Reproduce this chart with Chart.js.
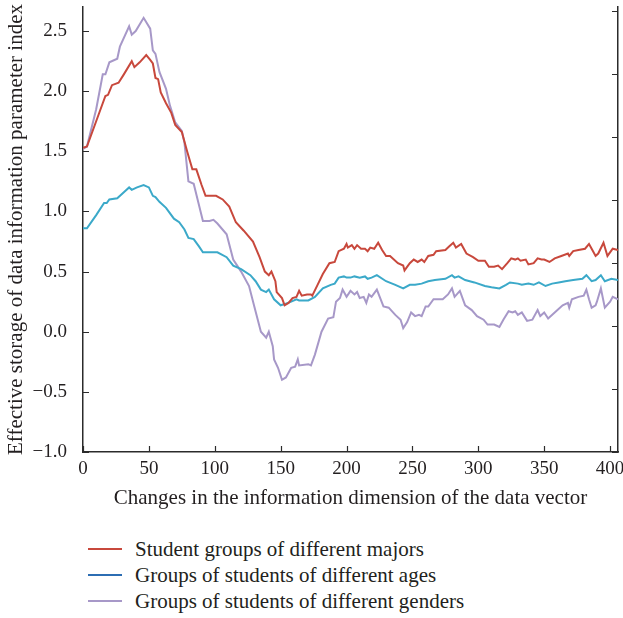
<!DOCTYPE html>
<html>
<head>
<meta charset="utf-8">
<script src="https://cdn.jsdelivr.net/npm/chart.js@4"></script>
<style>
  body { margin: 0; background: #fff; width: 623px; height: 618px; position: relative; overflow: hidden; }
  #chart { position: absolute; left: 0; top: 0; }
  .legend { position: absolute; left: 0; top: 536px; font-family: "Liberation Serif", serif; font-size: 21px; color: #231f20; }
  .legend .row { position: relative; height: 26px; width: 600px; }
  .legend .sw { position: absolute; left: 88px; top: 12px; width: 34px; height: 2px; }
  .legend .tx { position: absolute; left: 135px; top: 0; line-height: 26px; white-space: nowrap; }
</style>
</head>
<body>
<canvas id="chart" width="623" height="515"></canvas>
<div class="legend" id="legend"></div>
<script>
// series labels
const seriesNames = [
    'Student groups of different majors',
    'Groups of students of different ages',
    'Groups of students of different genders'
];

// [dimension, value]
const majors = [[0,1.53],[3,1.54],[10,1.75],[17,1.96],[19,1.97],[22,2.05],[27,2.07],[31,2.14],[37,2.25],[39,2.20],[43,2.24],[48,2.30],[51,2.26],[53,2.23],[55,2.11],[57,2.10],[59,1.99],[63,1.90],[67,1.82],[70,1.72],[75,1.66],[79,1.50],[83,1.35],[86,1.35],[90,1.22],[93,1.13],[101,1.13],[106,1.10],[111,1.04],[116,0.91],[122,0.84],[129,0.75],[134,0.62],[138,0.50],[141,0.47],[143,0.50],[146,0.42],[147,0.33],[151,0.28],[153,0.22],[156,0.24],[159,0.28],[162,0.29],[164,0.34],[166,0.30],[170,0.31],[173,0.31],[174,0.30],[178,0.39],[182,0.48],[187,0.57],[191,0.58],[194,0.67],[198,0.69],[200,0.73],[201,0.70],[204,0.72],[206,0.69],[208,0.72],[211,0.69],[214,0.69],[216,0.67],[218,0.70],[221,0.69],[224,0.74],[227,0.68],[230,0.63],[233,0.63],[239,0.57],[243,0.55],[244,0.51],[248,0.57],[251,0.60],[254,0.58],[257,0.60],[259,0.58],[262,0.63],[266,0.64],[268,0.67],[275,0.68],[278,0.71],[281,0.74],[283,0.70],[287,0.73],[291,0.65],[296,0.62],[300,0.59],[305,0.59],[308,0.54],[312,0.54],[315,0.55],[318,0.52],[322,0.57],[325,0.61],[328,0.60],[330,0.61],[332,0.59],[336,0.60],[338,0.56],[342,0.57],[345,0.61],[348,0.60],[350,0.60],[354,0.58],[358,0.61],[363,0.63],[368,0.65],[369,0.63],[372,0.67],[376,0.68],[381,0.69],[384,0.73],[386,0.69],[389,0.63],[391,0.65],[395,0.74],[398,0.63],[402,0.69],[406,0.68]];

const ages = [[0,0.86],[3,0.86],[10,0.97],[16,1.07],[18,1.07],[20,1.10],[26,1.11],[31,1.16],[35,1.20],[37,1.18],[41,1.20],[46,1.22],[50,1.20],[53,1.13],[55,1.12],[58,1.08],[63,1.03],[69,0.94],[73,0.91],[77,0.85],[80,0.78],[84,0.77],[88,0.71],[91,0.66],[102,0.66],[109,0.62],[114,0.55],[120,0.52],[127,0.47],[131,0.42],[135,0.35],[139,0.33],[141,0.35],[145,0.27],[150,0.22],[153,0.23],[158,0.25],[162,0.27],[164,0.26],[171,0.26],[176,0.29],[182,0.36],[188,0.39],[191,0.40],[194,0.45],[198,0.46],[200,0.45],[203,0.45],[206,0.46],[210,0.45],[214,0.46],[216,0.44],[219,0.45],[223,0.47],[230,0.42],[237,0.39],[243,0.36],[248,0.39],[252,0.39],[257,0.40],[262,0.42],[267,0.43],[275,0.44],[280,0.47],[282,0.45],[285,0.46],[290,0.43],[297,0.41],[305,0.38],[310,0.37],[316,0.36],[321,0.39],[324,0.41],[330,0.40],[333,0.39],[338,0.40],[342,0.39],[346,0.41],[351,0.38],[356,0.40],[361,0.41],[366,0.42],[372,0.43],[379,0.44],[382,0.47],[386,0.42],[389,0.43],[393,0.47],[396,0.42],[401,0.44],[406,0.43]];

const genders = [[0,1.52],[3,1.54],[10,1.85],[15,2.14],[17,2.14],[20,2.24],[26,2.27],[28,2.37],[35,2.54],[37,2.47],[40,2.50],[46,2.61],[51,2.52],[53,2.34],[55,2.31],[58,2.16],[63,2.02],[66,1.88],[70,1.74],[75,1.67],[77,1.57],[80,1.25],[84,1.23],[91,0.92],[96,0.92],[99,0.93],[102,0.90],[109,0.81],[114,0.60],[120,0.50],[126,0.38],[130,0.21],[135,0.00],[139,-0.05],[141,0.00],[144,-0.12],[145,-0.23],[148,-0.30],[151,-0.40],[154,-0.38],[158,-0.30],[161,-0.29],[163,-0.23],[164,-0.28],[171,-0.27],[173,-0.28],[176,-0.19],[181,0.00],[186,0.11],[190,0.12],[192,0.25],[195,0.28],[197,0.35],[200,0.29],[203,0.34],[206,0.31],[208,0.33],[210,0.28],[213,0.29],[215,0.24],[217,0.31],[219,0.29],[223,0.35],[228,0.21],[232,0.20],[237,0.14],[241,0.10],[243,0.03],[246,0.08],[249,0.16],[252,0.13],[255,0.14],[257,0.13],[260,0.21],[262,0.21],[266,0.27],[273,0.27],[277,0.31],[280,0.36],[282,0.29],[286,0.34],[290,0.22],[295,0.18],[299,0.13],[304,0.10],[307,0.06],[312,0.06],[316,0.04],[319,0.10],[323,0.17],[326,0.16],[328,0.17],[330,0.14],[333,0.16],[337,0.09],[341,0.10],[345,0.18],[347,0.13],[350,0.16],[353,0.11],[359,0.17],[364,0.22],[368,0.24],[369,0.20],[371,0.27],[376,0.29],[380,0.30],[382,0.35],[384,0.27],[386,0.20],[389,0.22],[390,0.25],[393,0.36],[396,0.20],[400,0.25],[402,0.29],[406,0.27]];

const xTicks = [0, 50, 100, 150, 200, 250, 300, 350, 400];
const yTicks = [-1.0, -0.5, 0.0, 0.5, 1.0, 1.5, 2.0, 2.5];

const lineColors = ['#c8483c', '#3ba9c9', '#a798c8'];
const legendColors = ['#c8483c', '#2c6db3', '#a798c8'];
const axisColor = '#2b2b2b';
const serif = '"Liberation Serif", "Times New Roman", serif';

const toPoints = arr => arr.map(p => ({ x: p[0], y: p[1] }));

// ticks drawn pointing into the plot, like the original
const inwardTicks = {
    id: 'inwardTicks',
    afterDraw(chart) {
        const { ctx, chartArea: a, scales } = chart;
        ctx.save();
        ctx.strokeStyle = axisColor;
        ctx.lineWidth = 1.2;
        ctx.beginPath();
        xTicks.forEach(v => {
            const px = Math.round(scales.x.getPixelForValue(v)) + 0.5;
            ctx.moveTo(px, a.bottom); ctx.lineTo(px, a.bottom - 6);
        });
        yTicks.forEach(v => {
            const py = Math.round(scales.y.getPixelForValue(v)) + 0.5;
            ctx.moveTo(a.left, py); ctx.lineTo(a.left + 6, py);
            const py2 = Math.round(scales.y2.getPixelForValue(v)) + 0.5;
            ctx.moveTo(a.right, py2); ctx.lineTo(a.right - 6, py2);
        });
        ctx.stroke();
        ctx.restore();
    }
};

const datasets = [majors, ages, genders].map((d, i) => ({
    label: seriesNames[i],
    data: toPoints(d),
    borderColor: lineColors[i],
    backgroundColor: lineColors[i],
    borderWidth: 2,
    pointRadius: 0,
    tension: 0,
    yAxisID: 'y',
    order: i + 1
}));

// no extra room for end labels: the plot edges are fixed
const noPadV = s => { s.paddingTop = 0; s.paddingBottom = 0; };

new Chart(document.getElementById('chart'), {
    type: 'line',
    data: { datasets },
    options: {
        responsive: false,
        animation: false,
        layout: { padding: { top: 7, left: 0, right: 0, bottom: 0 } },
        plugins: { legend: { display: false }, tooltip: { enabled: false } },
        scales: {
            x: {
                type: 'linear', min: 0, max: 406,
                grid: { display: false, drawTicks: false },
                border: { display: true, color: axisColor, width: 1.5 },
                afterFit: s => { s.height = 63; s.paddingLeft = 0; s.paddingRight = 0; },
                afterBuildTicks: s => { s.ticks = xTicks.map(v => ({ value: v })); },
                ticks: { padding: 6, color: '#231f20', font: { family: serif, size: 19 }, maxRotation: 0 },
                title: { display: true, text: 'Changes in the information dimension of the data vector', color: '#231f20', font: { family: serif, size: 21 }, padding: { top: 0, bottom: 4 } }
            },
            y: {
                type: 'linear', min: -1, max: 2.7, position: 'left',
                grid: { display: false, drawTicks: false },
                border: { display: true, color: axisColor, width: 1.5 },
                afterFit: s => { s.width = 83; noPadV(s); },
                afterBuildTicks: s => { s.ticks = yTicks.map(v => ({ value: v })); },
                ticks: {
                    padding: 16, color: '#231f20', font: { family: serif, size: 19 },
                    callback: v => v.toFixed(1).replace('-', '\u2212')
                },
                title: { display: true, text: 'Effective storage of data information parameter index', color: '#231f20', font: { family: serif, size: 21 }, padding: { top: 4, bottom: 0 } }
            },
            y2: {
                type: 'linear', min: -1, max: 2.53, position: 'right',
                grid: { display: false, drawTicks: false },
                border: { display: true, color: axisColor, width: 1.5 },
                afterFit: s => { s.width = 5; noPadV(s); },
                ticks: { display: false }
            }
        }
    },
    plugins: [inwardTicks]
});

// legend under the chart
document.getElementById('legend').innerHTML = seriesNames
    .map((n, i) => `<div class="row"><div class="sw" style="background:${legendColors[i]}"></div><div class="tx">${n}</div></div>`)
    .join('');
</script>
</body>
</html>
